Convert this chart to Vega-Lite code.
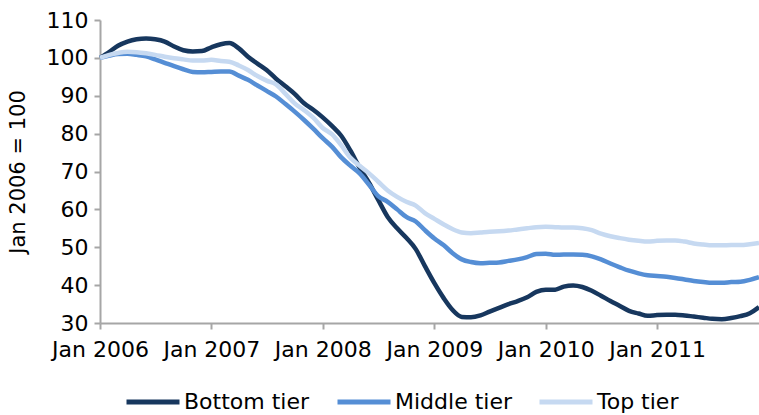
{
  "$schema": "https://vega.github.io/schema/vega-lite/v6.json",
  "width": 659,
  "height": 303,
  "autosize": {"type": "none"},
  "padding": {"left": 100, "top": 20, "right": 0, "bottom": 92},
  "background": "white",
  "config": {"view": {"stroke": null}, "font": "DejaVu Sans"},
  "data": {"values": [
    {"date": "2006-01-01", "Bottom tier": 100, "Middle tier": 100, "Top tier": 100},
    {"date": "2006-02-01", "Bottom tier": 101.6, "Middle tier": 100.6, "Top tier": 100.8},
    {"date": "2006-03-01", "Bottom tier": 103.2, "Middle tier": 101, "Top tier": 101.3},
    {"date": "2006-04-01", "Bottom tier": 104.3, "Middle tier": 101.1, "Top tier": 101.6},
    {"date": "2006-05-01", "Bottom tier": 104.9, "Middle tier": 100.8, "Top tier": 101.5},
    {"date": "2006-06-01", "Bottom tier": 105.1, "Middle tier": 100.4, "Top tier": 101.2},
    {"date": "2006-07-01", "Bottom tier": 104.9, "Middle tier": 99.6, "Top tier": 100.8},
    {"date": "2006-08-01", "Bottom tier": 104.3, "Middle tier": 98.7, "Top tier": 100.3},
    {"date": "2006-09-01", "Bottom tier": 103, "Middle tier": 97.8, "Top tier": 99.9},
    {"date": "2006-10-01", "Bottom tier": 102, "Middle tier": 97, "Top tier": 99.6},
    {"date": "2006-11-01", "Bottom tier": 101.7, "Middle tier": 96.3, "Top tier": 99.3},
    {"date": "2006-12-01", "Bottom tier": 101.8, "Middle tier": 96.2, "Top tier": 99.3},
    {"date": "2007-01-01", "Bottom tier": 102.8, "Middle tier": 96.3, "Top tier": 99.5},
    {"date": "2007-02-01", "Bottom tier": 103.6, "Middle tier": 96.4, "Top tier": 99.2},
    {"date": "2007-03-01", "Bottom tier": 103.9, "Middle tier": 96.4, "Top tier": 99},
    {"date": "2007-04-01", "Bottom tier": 102.5, "Middle tier": 95.3, "Top tier": 98},
    {"date": "2007-05-01", "Bottom tier": 100.3, "Middle tier": 94.2, "Top tier": 96.8},
    {"date": "2007-06-01", "Bottom tier": 98.5, "Middle tier": 92.7, "Top tier": 95.2},
    {"date": "2007-07-01", "Bottom tier": 96.8, "Middle tier": 91.3, "Top tier": 94},
    {"date": "2007-08-01", "Bottom tier": 94.5, "Middle tier": 89.8, "Top tier": 93},
    {"date": "2007-09-01", "Bottom tier": 92.5, "Middle tier": 87.8, "Top tier": 90.5},
    {"date": "2007-10-01", "Bottom tier": 90.5, "Middle tier": 85.8, "Top tier": 88},
    {"date": "2007-11-01", "Bottom tier": 88, "Middle tier": 83.6, "Top tier": 86.2},
    {"date": "2007-12-01", "Bottom tier": 86.3, "Middle tier": 81.3, "Top tier": 84.2},
    {"date": "2008-01-01", "Bottom tier": 84.3, "Middle tier": 78.8, "Top tier": 81.5},
    {"date": "2008-02-01", "Bottom tier": 82, "Middle tier": 76.5, "Top tier": 79.8},
    {"date": "2008-03-01", "Bottom tier": 79.5, "Middle tier": 73.8, "Top tier": 77},
    {"date": "2008-04-01", "Bottom tier": 75.5, "Middle tier": 71.5, "Top tier": 73.6},
    {"date": "2008-05-01", "Bottom tier": 71, "Middle tier": 69.5, "Top tier": 71.5},
    {"date": "2008-06-01", "Bottom tier": 67, "Middle tier": 66.5, "Top tier": 69.5},
    {"date": "2008-07-01", "Bottom tier": 62.5, "Middle tier": 63.5, "Top tier": 67.3},
    {"date": "2008-08-01", "Bottom tier": 58, "Middle tier": 62, "Top tier": 65},
    {"date": "2008-09-01", "Bottom tier": 55, "Middle tier": 60, "Top tier": 63.3},
    {"date": "2008-10-01", "Bottom tier": 52.5, "Middle tier": 58, "Top tier": 62},
    {"date": "2008-11-01", "Bottom tier": 49.5, "Middle tier": 56.8, "Top tier": 61},
    {"date": "2008-12-01", "Bottom tier": 45, "Middle tier": 54.5, "Top tier": 59},
    {"date": "2009-01-01", "Bottom tier": 40.5, "Middle tier": 52.3, "Top tier": 57.5},
    {"date": "2009-02-01", "Bottom tier": 36.5, "Middle tier": 50.5, "Top tier": 56},
    {"date": "2009-03-01", "Bottom tier": 33.5, "Middle tier": 48.5, "Top tier": 54.8},
    {"date": "2009-04-01", "Bottom tier": 31.6, "Middle tier": 46.8, "Top tier": 53.9},
    {"date": "2009-05-01", "Bottom tier": 31.5, "Middle tier": 46.1, "Top tier": 53.7},
    {"date": "2009-06-01", "Bottom tier": 32, "Middle tier": 45.8, "Top tier": 53.9},
    {"date": "2009-07-01", "Bottom tier": 33, "Middle tier": 45.9, "Top tier": 54.1},
    {"date": "2009-08-01", "Bottom tier": 34, "Middle tier": 46, "Top tier": 54.2},
    {"date": "2009-09-01", "Bottom tier": 35, "Middle tier": 46.4, "Top tier": 54.4},
    {"date": "2009-10-01", "Bottom tier": 35.8, "Middle tier": 46.8, "Top tier": 54.7},
    {"date": "2009-11-01", "Bottom tier": 36.8, "Middle tier": 47.4, "Top tier": 55},
    {"date": "2009-12-01", "Bottom tier": 38.2, "Middle tier": 48.2, "Top tier": 55.3},
    {"date": "2010-01-01", "Bottom tier": 38.8, "Middle tier": 48.3, "Top tier": 55.4},
    {"date": "2010-02-01", "Bottom tier": 38.8, "Middle tier": 48, "Top tier": 55.3},
    {"date": "2010-03-01", "Bottom tier": 39.6, "Middle tier": 48.1, "Top tier": 55.2},
    {"date": "2010-04-01", "Bottom tier": 39.9, "Middle tier": 48.1, "Top tier": 55.2},
    {"date": "2010-05-01", "Bottom tier": 39.5, "Middle tier": 48, "Top tier": 55},
    {"date": "2010-06-01", "Bottom tier": 38.5, "Middle tier": 47.6, "Top tier": 54.5},
    {"date": "2010-07-01", "Bottom tier": 37.2, "Middle tier": 46.8, "Top tier": 53.6},
    {"date": "2010-08-01", "Bottom tier": 35.8, "Middle tier": 45.7, "Top tier": 52.9},
    {"date": "2010-09-01", "Bottom tier": 34.5, "Middle tier": 44.7, "Top tier": 52.4},
    {"date": "2010-10-01", "Bottom tier": 33.2, "Middle tier": 43.8, "Top tier": 52},
    {"date": "2010-11-01", "Bottom tier": 32.5, "Middle tier": 43.1, "Top tier": 51.7},
    {"date": "2010-12-01", "Bottom tier": 31.9, "Middle tier": 42.6, "Top tier": 51.5},
    {"date": "2011-01-01", "Bottom tier": 32.1, "Middle tier": 42.4, "Top tier": 51.7},
    {"date": "2011-02-01", "Bottom tier": 32.2, "Middle tier": 42.2, "Top tier": 51.8},
    {"date": "2011-03-01", "Bottom tier": 32.2, "Middle tier": 41.9, "Top tier": 51.8},
    {"date": "2011-04-01", "Bottom tier": 32, "Middle tier": 41.5, "Top tier": 51.5},
    {"date": "2011-05-01", "Bottom tier": 31.7, "Middle tier": 41.1, "Top tier": 51},
    {"date": "2011-06-01", "Bottom tier": 31.4, "Middle tier": 40.8, "Top tier": 50.7},
    {"date": "2011-07-01", "Bottom tier": 31.1, "Middle tier": 40.6, "Top tier": 50.5},
    {"date": "2011-08-01", "Bottom tier": 31, "Middle tier": 40.6, "Top tier": 50.5},
    {"date": "2011-09-01", "Bottom tier": 31.3, "Middle tier": 40.8, "Top tier": 50.6},
    {"date": "2011-10-01", "Bottom tier": 31.8, "Middle tier": 40.9, "Top tier": 50.6},
    {"date": "2011-11-01", "Bottom tier": 32.6, "Middle tier": 41.4, "Top tier": 50.8},
    {"date": "2011-12-01", "Bottom tier": 34.2, "Middle tier": 42.1, "Top tier": 51.1}
  ]},
  "transform": [{"fold": ["Bottom tier", "Middle tier", "Top tier"], "as": ["tier", "value"]}],
  "mark": {"type": "line", "strokeWidth": 4.5, "interpolate": "monotone"},
  "encoding": {
    "x": {
      "field": "date", "type": "temporal",
      "scale": {"type": "utc", "domain": [{"year": 2006, "month": 1, "date": 1, "utc": true}, {"year": 2011, "month": 12, "date": 1, "utc": true}]},
      "axis": {
        "title": null, "format": "%b %Y", "grid": false,
        "values": [
          {"year": 2006, "month": 1, "date": 1, "utc": true},
          {"year": 2007, "month": 1, "date": 1, "utc": true},
          {"year": 2008, "month": 1, "date": 1, "utc": true},
          {"year": 2009, "month": 1, "date": 1, "utc": true},
          {"year": 2010, "month": 1, "date": 1, "utc": true},
          {"year": 2011, "month": 1, "date": 1, "utc": true}
        ],
        "domainColor": "#A6A6A6", "domainWidth": 2, "tickColor": "#A6A6A6", "tickWidth": 2, "tickSize": 6,
        "labelFontSize": 22, "labelColor": "#000000", "labelPadding": 10, "labelFlush": false, "labelOverlap": false
      }
    },
    "y": {
      "field": "value", "type": "quantitative",
      "scale": {"domain": [30, 110], "nice": false, "zero": false},
      "axis": {
        "title": "Jan 2006 = 100", "titleFontSize": 21, "titleFontWeight": "normal", "titleColor": "#000000", "titlePadding": 18,
        "values": [30, 40, 50, 60, 70, 80, 90, 100, 110], "grid": false,
        "domainColor": "#A6A6A6", "domainWidth": 2, "tickColor": "#A6A6A6", "tickWidth": 2, "tickSize": 6,
        "labelFontSize": 22, "labelColor": "#000000", "labelPadding": 6
      }
    },
    "color": {
      "field": "tier", "type": "nominal",
      "scale": {"domain": ["Bottom tier", "Middle tier", "Top tier"], "range": ["#17375E", "#558ED5", "#C6D9F1"]},
      "legend": {
        "title": null, "orient": "none", "legendX": 24, "legendY": 353, "direction": "horizontal",
        "symbolType": "stroke", "symbolSize": 2809, "symbolStrokeWidth": 5, "labelFontSize": 22, "labelColor": "#000000",
        "labelOffset": 2, "columnPadding": 17, "padding": 0, "labelLimit": 300
      }
    }
  }
}
